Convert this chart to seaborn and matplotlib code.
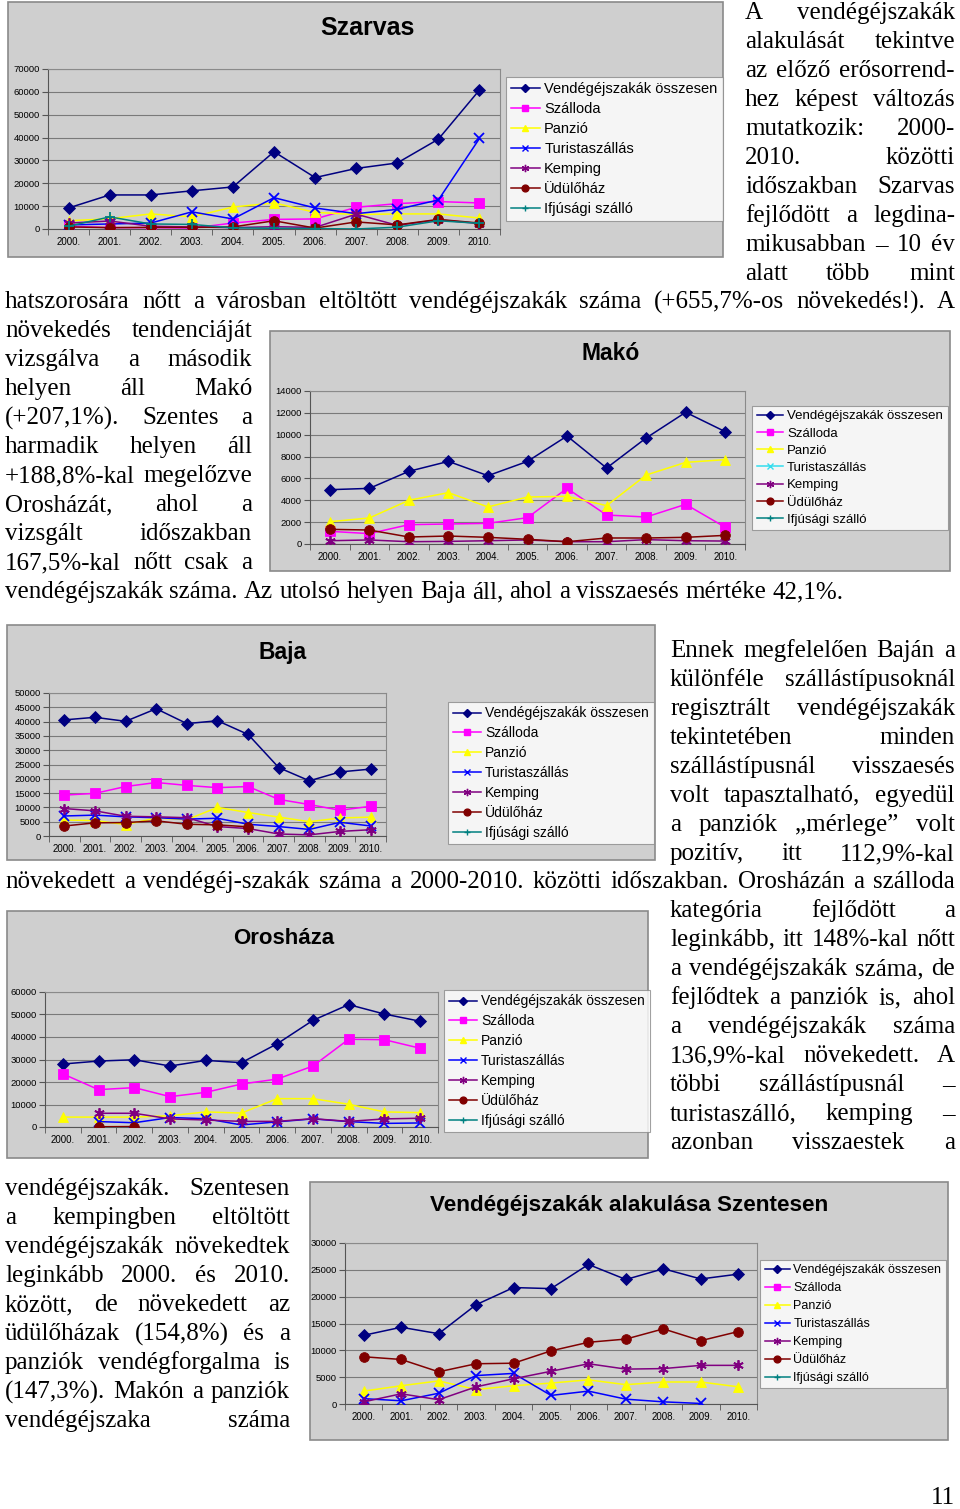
import numpy as np
import matplotlib
matplotlib.use("Agg")
from matplotlib import pyplot as plt
from matplotlib.patches import Rectangle
from matplotlib.lines import Line2D
import seaborn as sns

nan = np.nan
W, H = 960, 1509

years = ['2000.', '2001.', '2002.', '2003.', '2004.', '2005.', '2006.', '2007.', '2008.', '2009.', '2010.']
names = ['Vendégéjszakák összesen', 'Szálloda', 'Panzió', 'Turistaszállás', 'Kemping', 'Üdülőház', 'Ifjúsági szálló']

# Szarvas
szarvas_total = [9200, 14900, 14900, 16700, 18400, 33800, 22500, 26500, 28900, 39300, 60800]
szarvas_szalloda = [1200, 600, 600, 400, 2600, 4200, 4400, 9500, 11100, 12000, 11400]
szarvas_panzio = [3600, 4500, 6600, 5300, 9600, 11400, 7300, 6300, 6600, 6600, 4800]
szarvas_turista = [1800, 2200, 2600, 7500, 4400, 13700, 9200, 6700, 8600, 12700, 39600]
szarvas_kemping = [2600, 3500, 1200, 900, 600, 1000, 700, 6500, 1600, 4000, 2400]
szarvas_udulo = [900, 600, 700, 700, 900, 3600, 400, 3100, 1800, 4200, 2600]
szarvas_ifjusagi = [1200, 5300, 2200, 2000, 500, 300, 200, 0, 800, 3600, 2500]

# Makó
mako_total = [4970, 5090, 6650, 7560, 6250, 7560, 9880, 6950, 9700, 12050, 10280]
mako_szalloda = [1160, 950, 1770, 1830, 1890, 2410, 5090, 2650, 2470, 3630, 1530]
mako_panzio = [2040, 2380, 4000, 4700, 3390, 4300, 4360, 3510, 6310, 7470, 7720]
mako_turista = [nan] * 11
mako_kemping = [300, 370, 210, 240, 300, 370, 210, 210, 400, 300, 270]
mako_udulo = [1340, 1280, 640, 730, 610, 430, 210, 550, 550, 610, 790]
mako_ifjusagi = [nan] * 11

# Baja
baja_total = [40600, 41500, 40100, 44500, 39300, 40300, 35500, 23900, 19300, 22400, 23400]
baja_szalloda = [14300, 14900, 17300, 18700, 17700, 16900, 17300, 12800, 11000, 9000, 10400]
baja_panzio = [5600, 5400, 4000, 6300, 5700, 10000, 8200, 6600, 5000, 6300, 6600]
baja_turista = [7000, 7300, 6700, 6400, 5900, 6200, 4100, 3300, 2300, 4800, 3500]
baja_kemping = [9600, 8800, 6900, 6700, 6400, 3300, 2600, 700, 400, 1600, 2200]
baja_udulo = [3500, 4600, 4700, 5300, 4100, 3900, 3200, nan, nan, nan, nan]
baja_ifjusagi = [nan] * 11

# Orosháza
oroshaza_total = [28000, 29300, 29900, 27100, 29600, 28600, 37000, 47400, 54400, 50200, 47000]
oroshaza_szalloda = [23600, 16600, 17500, 13500, 15400, 19100, 21300, 27100, 39000, 38800, 35000]
oroshaza_panzio = [4400, 4400, 4400, 5000, 6700, 6200, 12600, 12600, 10100, 6700, 6400]
oroshaza_turista = [nan, 2400, 1900, 4200, 3700, 900, 2300, 3600, 2400, 1600, 1800]
oroshaza_kemping = [nan, 6100, 6100, 3600, 3100, 2500, 2500, 3700, 2500, 3600, 3900]
oroshaza_udulo = [nan, 100, 200, nan, nan, nan, nan, nan, nan, nan, nan]
oroshaza_ifjusagi = [nan] * 11

# Szentes
szentes_total = [12800, 14300, 13100, 18500, 21700, 21500, 26000, 23200, 25200, 23300, 24200]
szentes_szalloda = [nan] * 11
szentes_panzio = [2400, 3400, 4300, 2700, 3400, 3900, 4500, 3600, 4100, 4100, 3200]
szentes_turista = [1000, 600, 2000, 5300, 5700, 1600, 2400, 900, 400, 100, nan]
szentes_kemping = [400, 1900, 800, 3200, 4700, 6100, 7500, 6500, 6600, 7200, 7200]
szentes_udulo = [8800, 8300, 6000, 7500, 7600, 9900, 11500, 12100, 14000, 11800, 13500]
szentes_ifjusagi = [nan] * 11

colors = ['#000080', '#ff00ff', '#ffff00', '#0000ff', '#800080', '#800000', '#008080']
markers = ['D', 's', '^', 'x', (6, 2, 0), 'o', '+']
msizes = [6, 6.5, 6.5, 7, 7.5, 7, 7]

BG = '#cfcfcf'
fig = plt.figure(figsize=(W / 100, H / 100), dpi=100)
fig.patch.set_facecolor('white')


def box(x0, y0, x1, y1, **kw):
    r = Rectangle((x0 / W, 1 - y1 / H), (x1 - x0) / W, (y1 - y0) / H,
                  transform=fig.transFigure, **kw)
    fig.add_artist(r)


def chart(data, title, frame, plot, ymax, ystep, title_pos, title_fs, leg_center, leg_fs, leg_sp,
          tur_color='#0000ff', ms_scale=1.0):
    box(*frame, fc=BG, ec='#8a8a8a', lw=1.2, zorder=0)
    x0, y0, x1, y1 = plot
    ax = fig.add_axes([x0 / W, 1 - y1 / H, (x1 - x0) / W, (y1 - y0) / H])
    ax.set_facecolor(BG)
    xs = np.arange(11)
    cols = list(colors)
    cols[3] = tur_color
    for vals, c, m, s in zip(data, cols, markers, msizes):
        v = np.array(vals, dtype=float)
        if np.all(np.isnan(v)):
            continue
        sns.lineplot(x=xs, y=v, ax=ax, color=c, marker=m, markersize=s * ms_scale,
                     markeredgecolor=c, markeredgewidth=1.3 if m in ('x', '+') or isinstance(m, tuple) else 0.6,
                     linewidth=1.1, legend=False, zorder=3)
    ax.set_xlim(-0.5, 10.5)
    ax.set_ylim(0, ymax)
    ax.set_yticks(np.arange(0, ymax + 1, ystep))
    ax.set_yticklabels([str(int(t)) for t in np.arange(0, ymax + 1, ystep)], fontsize=6.8, family='Liberation Sans')
    ax.set_xticks(xs)
    ax.set_xticklabels(years, fontsize=7, family='Liberation Sans')
    ax.set_xticks(np.arange(-0.5, 11, 1), minor=True)
    ax.tick_params(axis='x', which='major', length=0, pad=6)
    ax.tick_params(axis='x', which='minor', length=4, color='#555555')
    ax.tick_params(axis='y', length=4, color='#555555', pad=2)
    ax.yaxis.grid(True, color='#7a7a7a', lw=0.8)
    ax.set_axisbelow(True)
    ax.set_xlabel('')
    ax.set_ylabel('')
    for sp in ax.spines.values():
        sp.set_color('#8a8a8a')
        sp.set_linewidth(0.8)
    ax.spines['left'].set_color('#555555')
    ax.spines['bottom'].set_color('#555555')
    fig.text(title_pos[0] / W, 1 - title_pos[1] / H, title, fontsize=title_fs, weight='bold',
             family='Liberation Sans', ha='center', va='center')
    handles = []
    for c, m, s in zip(cols, markers, msizes):
        handles.append(Line2D([], [], color=c, marker=m, markersize=s * 0.7, markeredgecolor=c, lw=1.1,
                              markeredgewidth=1.0))
    leg = ax.legend(handles, names, loc='center', bbox_to_anchor=(leg_center[0] / W, 1 - leg_center[1] / H),
                    bbox_transform=fig.transFigure, frameon=True, fancybox=False, edgecolor='#8a8a8a',
                    fontsize=leg_fs, labelspacing=leg_sp, handlelength=2.0, handletextpad=0.3,
                    borderpad=0.35, borderaxespad=0)
    leg.get_frame().set_linewidth(0.8)
    for t in leg.get_texts():
        t.set_family('Liberation Sans')
    return ax


chart([szarvas_total, szarvas_szalloda, szarvas_panzio, szarvas_turista, szarvas_kemping, szarvas_udulo,
       szarvas_ifjusagi], 'Szarvas', (8, 2, 723, 257), (48, 69, 500, 229), 70000, 10000, (367, 28), 18,
      (614, 149), 10.5, 0.42)
chart([mako_total, mako_szalloda, mako_panzio, mako_turista, mako_kemping, mako_udulo, mako_ifjusagi],
      'Makó', (270, 331, 950, 571), (310, 391, 745, 544), 14000, 2000, (611, 354), 16.5,
      (850, 468), 9.5, 0.38, tur_color='#33ddee')
chart([baja_total, baja_szalloda, baja_panzio, baja_turista, baja_kemping, baja_udulo, baja_ifjusagi],
      'Baja', (7, 625, 655, 860), (49, 693, 386, 836), 50000, 5000, (283, 652), 16.5,
      (551, 773), 10, 0.42)
chart([oroshaza_total, oroshaza_szalloda, oroshaza_panzio, oroshaza_turista, oroshaza_kemping, oroshaza_udulo,
       oroshaza_ifjusagi], 'Orosháza', (7, 911, 648, 1158), (45, 992, 438, 1127), 60000, 10000, (284, 938), 16,
      (547, 1061), 10, 0.42)
chart([szentes_total, szentes_szalloda, szentes_panzio, szentes_turista, szentes_kemping, szentes_udulo,
       szentes_ifjusagi], 'Vendégéjszakák alakulása Szentesen', (310, 1182, 948, 1440), (345, 1243, 757, 1404),
      30000, 5000, (629, 1205), 16.2, (853, 1324), 9, 0.48)

# body text (justified lines)
FS = 18
renderer = fig.canvas.get_renderer()


def line(text, x0, x1, y, justify=True):
    words = text.split(' ')
    tx = [fig.text(0, 1 - y / H, w, fontsize=FS, family='Liberation Serif', va='center', ha='left')
          for w in words]
    ws = [t.get_window_extent(renderer).width for t in tx]
    if justify and len(words) > 1:
        gap = (x1 - x0 - sum(ws)) / (len(words) - 1)
    else:
        gap = FS * 0.25 * 100 / 72
    x = x0
    for t, w in zip(tx, ws):
        t.set_x(x / W)
        x += w + gap


block1 = ['A vendégéjszakák', 'alakulását tekintve', 'az előző erősorrend-', 'hez képest változás',
          'mutatkozik: 2000-', '2010. közötti', 'időszakban Szarvas', 'fejlődött a legdina-',
          'mikusabban – 10 év', 'alatt több mint']
for i, s in enumerate(block1):
    line(s, 745, 955, 13 + 29 * i)
line('hatszorosára nőtt a városban eltöltött vendégéjszakák száma (+655,7%-os növekedés!). A', 5, 955, 302)

block2 = ['növekedés tendenciáját', 'vizsgálva a második', 'helyen áll Makó', '(+207,1%). Szentes a',
          'harmadik helyen áll', '+188,8%-kal megelőzve', 'Orosházát, ahol a', 'vizsgált időszakban',
          '167,5%-kal nőtt csak a']
for i, s in enumerate(block2):
    line(s, 5, 252, 331 + 29 * i)
line('vendégéjszakák száma. Az utolsó helyen Baja áll, ahol a visszaesés mértéke 42,1%.', 5, 955, 592,
     justify=False)

block3 = ['Ennek megfelelően Baján a', 'különféle szállástípusoknál', 'regisztrált vendégéjszakák',
          'tekintetében minden', 'szállástípusnál visszaesés', 'volt tapasztalható, egyedül',
          'a panziók „mérlege” volt', 'pozitív, itt 112,9%-kal']
for i, s in enumerate(block3):
    line(s, 670, 955, 651 + 29 * i)
line('növekedett a vendégéj-szakák száma a 2000-2010. közötti időszakban. Orosházán a szálloda', 5, 955, 882)

block4 = ['kategória fejlődött a', 'leginkább, itt 148%-kal nőtt', 'a vendégéjszakák száma, de',
          'fejlődtek a panziók is, ahol', 'a vendégéjszakák száma', '136,9%-kal növekedett. A',
          'többi szállástípusnál –', 'turistaszálló, kemping –', 'azonban visszaestek a']
for i, s in enumerate(block4):
    line(s, 670, 955, 911 + 29 * i)

block5 = ['vendégéjszakák. Szentesen', 'a kempingben eltöltött', 'vendégéjszakák növekedtek',
          'leginkább 2000. és 2010.', 'között, de növekedett az', 'üdülőházak (154,8%) és a',
          'panziók vendégforgalma is', '(147,3%). Makón a panziók', 'vendégéjszaka száma']
for i, s in enumerate(block5):
    line(s, 5, 290, 1189 + 29 * i)

fig.text(955 / W, 1 - 1498 / H, '11', fontsize=FS, family='Liberation Serif', ha='right', va='center')

fig.savefig('out.png', dpi=100)
